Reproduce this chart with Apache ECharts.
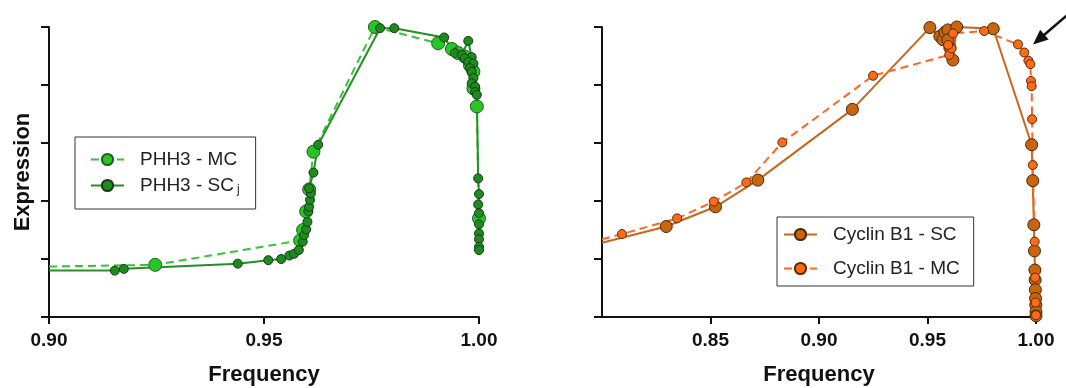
<!DOCTYPE html>
<html>
<head>
<meta charset="utf-8">
<script src="https://cdn.jsdelivr.net/npm/echarts@6/dist/echarts.min.js"></script>
<style>
  html, body { margin: 0; padding: 0; background: #ffffff; }
  #chart { width: 1066px; height: 388px; }
</style>
</head>
<body>
<div id="chart"></div>
<script>
// Frequency / expression profiles. Each pair is [frequency, expression].
// The first pair of every curve is where it enters at the left edge of its panel (no marker there).

// PHH3, multi-cell (MC) and single-cell (SC_j)
const phh3MC = [
  [0.900, 0.87], [0.9247, 0.90], [0.9584, 1.32], [0.9591, 1.50], [0.9598, 1.82],
  [0.9605, 2.20], [0.9615, 2.85], [0.9758, 5.00], [0.9905, 4.72], [0.9937, 4.62],
  [0.9952, 4.55], [0.9967, 4.49], [0.9979, 4.34], [0.9987, 4.23], [0.9987, 3.94],
  [0.9995, 3.63], [1.000, 1.70]
];
const phh3SC = [
  [0.900, 0.80], [0.9153, 0.80], [0.9174, 0.83], [0.9439, 0.92], [0.9510, 0.98],
  [0.9540, 1.00], [0.9559, 1.06], [0.9570, 1.09], [0.9581, 1.155], [0.9590, 1.30],
  [0.9593, 1.41], [0.9598, 1.51], [0.9601, 1.64], [0.9603, 1.82], [0.9605, 1.90],
  [0.9607, 2.02], [0.9609, 2.13], [0.9605, 2.22], [0.9615, 2.49], [0.9626, 2.97],
  [0.9770, 4.98], [0.9803, 4.98], [0.9919, 4.82], [0.9944, 4.55], [0.9960, 4.52],
  [0.9975, 4.76], [0.9983, 4.48], [0.9967, 4.46], [0.9975, 4.40], [0.9987, 4.37],
  [0.9979, 4.29], [0.9983, 4.23], [0.9987, 4.12], [0.9983, 4.03], [0.9991, 3.97],
  [0.9991, 3.88], [0.9995, 3.83], [0.9998, 2.39], [1.000, 2.12], [0.9998, 1.94],
  [1.000, 1.79], [1.000, 1.60], [1.000, 1.44], [1.000, 1.34], [1.000, 1.21],
  [1.000, 1.155]
];

// Cyclin B1, single-cell (SC) and multi-cell (MC)
const cyclinSC = [
  [0.800, 1.28], [0.8296, 1.56], [0.8523, 1.90], [0.8718, 2.36], [0.9154, 3.58],
  [0.9511, 4.99], [0.9557, 4.84], [0.9571, 4.78], [0.9580, 4.91], [0.9594, 4.95],
  [0.9603, 4.64], [0.9594, 4.78], [0.9617, 4.43], [0.9635, 5.00], [0.9803, 4.97],
  [0.9980, 2.97], [0.9985, 2.35], [0.9990, 1.59], [0.9993, 1.14], [0.9995, 0.81],
  [0.9996, 0.64], [0.9997, 0.47], [0.9998, 0.32], [0.9999, 0.21], [1.000, 0.09],
  [1.000, 0.02]
];
const cyclinMC = [
  [0.800, 1.34], [0.8092, 1.43], [0.8346, 1.70], [0.8515, 1.99], [0.8665, 2.32],
  [0.8831, 3.01], [0.9249, 4.16], [0.9600, 4.52], [0.9611, 4.63], [0.9595, 4.69],
  [0.9618, 4.89], [0.9761, 4.93], [0.9917, 4.70], [0.9946, 4.56], [0.9965, 4.42],
  [0.9974, 4.36], [0.9977, 4.07], [0.9980, 3.98], [0.9982, 3.41], [0.9985, 2.62],
  [0.9994, 1.30], [0.9996, 0.68], [0.9998, 0.25], [1.000, 0.03]
];

// Point singled out by the arrow in the Cyclin B1 panel
const arrowTarget = [0.9917, 4.70];

// Axis ranges and tick steps
const leftX = { min: 0.90, max: 1.00, step: 0.05 };
const rightX = { min: 0.80, max: 1.00, step: 0.05 };
const yRange = { min: 0, max: 5, step: 1 };

const FONT = '"Liberation Sans", Arial, Helvetica, sans-serif';
const INK = '#111111';

function toPoints(pairs) {
  return pairs.map((p, i) => (i === 0 ? { value: p, symbol: 'none' } : p));
}

function xAxis(gridIndex, range, showMin) {
  return {
    gridIndex, type: 'value', min: range.min, max: range.max, interval: range.step,
    axisLine: { lineStyle: { color: INK, width: 2 } },
    axisTick: { length: 7, lineStyle: { color: INK, width: 2 } },
    axisLabel: {
      showMinLabel: showMin, margin: 14, color: INK, fontSize: 19, fontWeight: 'bold',
      fontFamily: FONT, formatter: v => v.toFixed(2)
    },
    splitLine: { show: false },
    name: 'Frequency', nameLocation: 'middle', nameGap: 47,
    nameTextStyle: { color: INK, fontSize: 22, fontWeight: 'bold', fontFamily: FONT }
  };
}

function yAxis(gridIndex, title) {
  return {
    gridIndex, type: 'value', min: yRange.min, max: yRange.max, interval: yRange.step,
    axisLine: { show: true, lineStyle: { color: INK, width: 2 } },
    axisTick: { show: true, length: 8, lineStyle: { color: INK, width: 2 } },
    axisLabel: { show: false },
    splitLine: { show: false },
    name: title, nameLocation: 'middle', nameGap: 15, nameRotate: 90,
    nameTextStyle: { color: INK, fontSize: 22, fontWeight: 'bold', fontFamily: FONT }
  };
}

function lineSeries(name, axisIdx, pairs, color, fill, border, size, dashed) {
  return {
    name, type: 'line', xAxisIndex: axisIdx, yAxisIndex: axisIdx,
    data: toPoints(pairs), clip: false, animation: false,
    symbol: 'circle', symbolSize: size,
    lineStyle: { color, width: 2, type: dashed ? [8, 5] : 'solid' },
    itemStyle: { color: fill, borderColor: border, borderWidth: 1 },
    emphasis: { disabled: true }
  };
}

function legend(names, left, top, gap, pad) {
  return {
    data: names, left, top, orient: 'vertical', selectedMode: false,
    itemWidth: 33, itemHeight: 14, itemGap: gap, padding: pad,
    borderColor: '#333333', borderWidth: 1, backgroundColor: '#ffffff',
    textStyle: {
      color: '#222222', fontFamily: FONT, fontSize: 19,
      rich: {
        t: { fontSize: 19, lineHeight: 18, color: '#222222', fontFamily: FONT, padding: [0, 0, 0, 11] },
        s: { fontSize: 12, lineHeight: 18, color: '#222222', fontFamily: FONT, padding: [9, 0, 0, 3] }
      }
    },
    formatter: name => name.endsWith('SCj')
      ? '{t|' + name.slice(0, -1) + '}{s|j}'
      : '{t|' + name + '}'
  };
}

const chart = echarts.init(document.getElementById('chart'), null, { renderer: 'canvas' });

chart.setOption({
  backgroundColor: '#ffffff',
  animation: false,
  grid: [
    { left: 49, top: 27, width: 430, height: 290, outerBoundsMode: 'none', containLabel: false },
    { left: 602, top: 27, width: 434, height: 290, outerBoundsMode: 'none', containLabel: false }
  ],
  xAxis: [xAxis(0, leftX, true), xAxis(1, rightX, false)],
  yAxis: [yAxis(0, 'Expression'), yAxis(1, '')],
  legend: [
    legend(['PHH3 - MC', 'PHH3 - SCj'], 75, 137, 6, [13, 16, 13, 15]),
    legend(['Cyclin B1 - SC', 'Cyclin B1 - MC'], 777, 217, 15, [8, 14, 8, 6])
  ],
  series: [
    lineSeries('PHH3 - MC', 0, phh3MC, '#35c435', '#27c527', '#1f5f1f', 13, true),
    lineSeries('PHH3 - SCj', 0, phh3SC, '#248f24', '#1f8a1f', '#123f12', 9, false),
    lineSeries('Cyclin B1 - SC', 1, cyclinSC, '#c9661a', '#c8650f', '#4a2505', 12, false),
    lineSeries('Cyclin B1 - MC', 1, cyclinMC, '#ff6624', '#ff6a14', '#5a2a08', 9, true)
  ]
});

// Arrow pointing at the highlighted Cyclin B1 - MC point
const p = chart.convertToPixel({ gridIndex: 1 }, arrowTarget);
const tip = [p[0] + 15, p[1]];
const tail = [tip[0] + 42, tip[1] - 36];
const dx = tip[0] - tail[0], dy = tip[1] - tail[1];
const len = Math.hypot(dx, dy);
const ux = dx / len, uy = dy / len;
const headLen = 15, headHalf = 6.5;
const base = [tip[0] - ux * headLen, tip[1] - uy * headLen];
const nx = -uy, ny = ux;

chart.setOption({
  graphic: [
    {
      type: 'line', silent: true,
      shape: { x1: tail[0], y1: tail[1], x2: base[0] + ux * 2, y2: base[1] + uy * 2 },
      style: { stroke: INK, lineWidth: 2.5 }
    },
    {
      type: 'polygon', silent: true,
      shape: { points: [tip, [base[0] + nx * headHalf, base[1] + ny * headHalf], [base[0] - nx * headHalf, base[1] - ny * headHalf]] },
      style: { fill: INK }
    }
  ]
});
</script>
</body>
</html>
